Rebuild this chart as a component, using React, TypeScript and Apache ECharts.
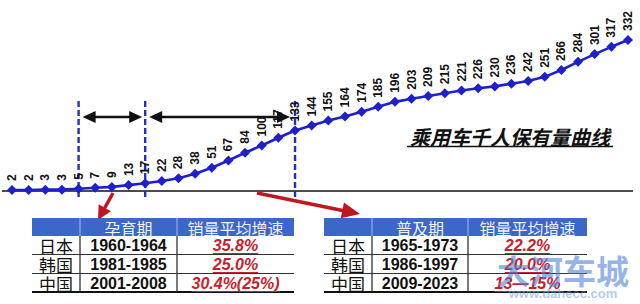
import React, { useEffect, useRef } from "react";
import * as echarts from "echarts";

// Passenger cars per thousand people, one point per year
const ownershipValues = [
  2, 2, 3, 3, 5, 7, 9, 13, 17, 22, 28, 38, 51, 67, 84, 100, 117, 133, 144, 155,
  164, 174, 185, 196, 203, 209, 215, 221, 226, 230, 236, 242, 251, 266, 284, 301,
  317, 332,
];
const yearSlots = ownershipValues.map((_, i) => String(i + 1));

// Stage boundaries on the curve (category indices)
const stageMarks = [4, 8, 17];

// Tables
const countries = ["日本", "韩国", "中国"];
const incubationTitle = "孕育期";
const incubationYears = ["1960-1964", "1981-1985", "2001-2008"];
const incubationGrowth = ["35.8%", "25.0%", "30.4%(25%)"];
const adoptionTitle = "普及期";
const adoptionYears = ["1965-1973", "1986-1997", "2009-2023"];
const adoptionGrowth = ["22.2%", "20.0%", "13—15%"];
const growthHeader = "销量平均增速";
const chartTitle = "乘用车千人保有量曲线";

const CJK = '"Noto Sans CJK SC", "Noto Sans", sans-serif';
const LATIN = '"Liberation Sans", Arial, sans-serif';

function measure(text: string, font: string): number {
  const c = document.createElement("canvas").getContext("2d");
  if (!c) return text.length * 8;
  c.font = font;
  return c.measureText(text).width;
}

function txt(x: number, y: number, text: string, font: string, fill: string, align = "center") {
  return {
    type: "text",
    x,
    y,
    silent: true,
    style: {
      text,
      font,
      fill,
      align,
      verticalAlign: "middle",
      textAlign: align,
      textVerticalAlign: "middle",
    },
  };
}

function seg(x1: number, y1: number, x2: number, y2: number, stroke: string, lineWidth: number, dash?: number[]) {
  return {
    type: "line",
    silent: true,
    shape: { x1, y1, x2, y2 },
    style: { stroke, lineWidth, lineDash: dash },
  };
}

function arrowHead(tx: number, ty: number, fx: number, fy: number, len: number, half: number, fill: string) {
  const dx = tx - fx;
  const dy = ty - fy;
  const d = Math.sqrt(dx * dx + dy * dy) || 1;
  const ux = dx / d;
  const uy = dy / d;
  const bx = tx - ux * len;
  const by = ty - uy * len;
  return {
    type: "polygon",
    silent: true,
    shape: {
      points: [
        [tx, ty],
        [bx - uy * half, by + ux * half],
        [bx + uy * half, by - ux * half],
      ],
    },
    style: { fill },
  };
}

function buildTable(cols: number[], title: string, years: string[], growth: string[]) {
  const [x0, c1, c2, x3] = cols;
  const top = 218;
  const headBottom = 236;
  const rowY = [245, 264, 283];
  const items: any[] = [];
  items.push({
    type: "rect",
    silent: true,
    shape: { x: x0, y: top, width: x3 - x0, height: headBottom - top },
    style: { fill: "#3b67c8" },
  });
  items.push(seg(c1, top, c1, headBottom, "rgba(255,255,255,0.55)", 1));
  items.push(seg(c2, top, c2, headBottom, "rgba(255,255,255,0.55)", 1));
  items.push(txt((c1 + c2) / 2, 227.5, title, `16px ${CJK}`, "#eef1ff"));
  items.push(txt((c2 + x3) / 2, 227.5, growthHeader, `16px ${CJK}`, "#eef1ff"));
  items.push(seg(x0, 254.5, x3, 254.5, "#333", 1));
  items.push(seg(x0, 273.5, x3, 273.5, "#333", 1));
  items.push(seg(x0, 292, x3, 292, "#111", 2));
  items.push(seg(c1, headBottom, c1, 292, "#222", 1.2));
  items.push(seg(c2, headBottom, c2, 292, "#222", 1.2));
  const growthFont = `italic bold 16px ${LATIN}`;
  rowY.forEach((y, i) => {
    items.push(txt((x0 + c1) / 2, y, countries[i], `17px ${CJK}`, "#111"));
    items.push(txt((c1 + c2) / 2, y, years[i], `bold 16px ${LATIN}`, "#111"));
    const gx = (c2 + x3) / 2;
    items.push(txt(gx, y, growth[i], growthFont, "#c8202c"));
    const w = measure(growth[i], growthFont);
    items.push(seg(gx - w / 2, y + 8.5, gx + w / 2, y + 8.5, "#c8202c", 1));
  });
  return items;
}

export default function App() {
  const ref = useRef<HTMLDivElement>(null);

  useEffect(() => {
    if (!ref.current) return;
    const chart = echarts.init(ref.current, null, { renderer: "svg" });
    chart.setOption({
      animation: false,
      backgroundColor: "#ffffff",
      grid: { left: 12, right: 12, top: 40, bottom: 113 },
      xAxis: {
        type: "category",
        data: yearSlots,
        boundaryGap: false,
        show: false,
      },
      yAxis: { type: "value", min: 0, max: 332, show: false },
      series: [
        {
          type: "line",
          data: ownershipValues,
          symbol: "diamond",
          symbolSize: 10,
          lineStyle: { color: "#1e20cc", width: 2.6 },
          itemStyle: { color: "#1e20cc" },
          label: {
            show: true,
            position: "top",
            rotate: 90,
            align: "left",
            verticalAlign: "middle",
            distance: 4,
            fontSize: 12,
            fontWeight: "bold",
            fontFamily: LATIN,
            color: "#111",
          },
          z: 3,
        },
      ],
    });

    const px = (i: number, v: number) =>
      chart.convertToPixel({ xAxisIndex: 0, yAxisIndex: 0 }, [i, v]) as number[];
    const zeroY = px(0, 0)[1];
    const firstX = px(0, 0)[0];
    const lastX = px(ownershipValues.length - 1, 0)[0];
    const markX = stageMarks.map((i) => px(i, 0)[0]);

    const g: any[] = [];
    // baseline
    g.push(seg(firstX - 10, zeroY, lastX + 5, zeroY, "#111", 1.5));
    // stage boundaries
    markX.forEach((x) => g.push(seg(x, 101, x, 197, "#2230c0", 2.4, [6, 3])));
    // duration arrows between boundaries
    const ay = 117;
    const spans = [
      [markX[0] + 4, markX[1] - 3],
      [markX[1] + 4, markX[2] - 5],
    ];
    spans.forEach(([a, b]) => {
      g.push(seg(a + 8, ay, b - 8, ay, "#111", 2.5));
      g.push(arrowHead(a, ay, b, ay, 13, 6, "#111"));
      g.push(arrowHead(b, ay, a, ay, 13, 6, "#111"));
    });
    // red pointers towards the tables
    const red = "#c0161f";
    g.push(seg(113, 193, 103, 211, red, 3.5));
    g.push(arrowHead(98, 220, 113, 193, 14, 7, red));
    g.push(seg(257, 193, 345, 211, red, 3.5));
    g.push(arrowHead(360, 214, 257, 193, 18, 8, red));
    // title
    g.push(txt(510, 136, chartTitle, `italic bold 20px ${CJK}`, "#111"));
    g.push(seg(407, 146.5, 613, 146.5, "#111", 1.5));
    // tables
    g.push(...buildTable([32, 80, 177, 294], incubationTitle, incubationYears, incubationGrowth));
    g.push(...buildTable([324, 372, 468, 587], adoptionTitle, adoptionYears, adoptionGrowth));
    // site mark
    g.push(txt(563, 270, "大河车城", `bold 33px ${CJK}`, "rgba(80,130,215,0.6)"));
    g.push(txt(563, 293, "www.dahecc.com", `bold 13px ${LATIN}`, "rgba(110,150,220,0.5)"));

    chart.setOption({ graphic: g });

    return () => chart.dispose();
  }, []);

  return (
    <div
      ref={ref}
      style={{ position: "absolute", left: 0, top: 0, width: 640, height: 304 }}
    />
  );
}
